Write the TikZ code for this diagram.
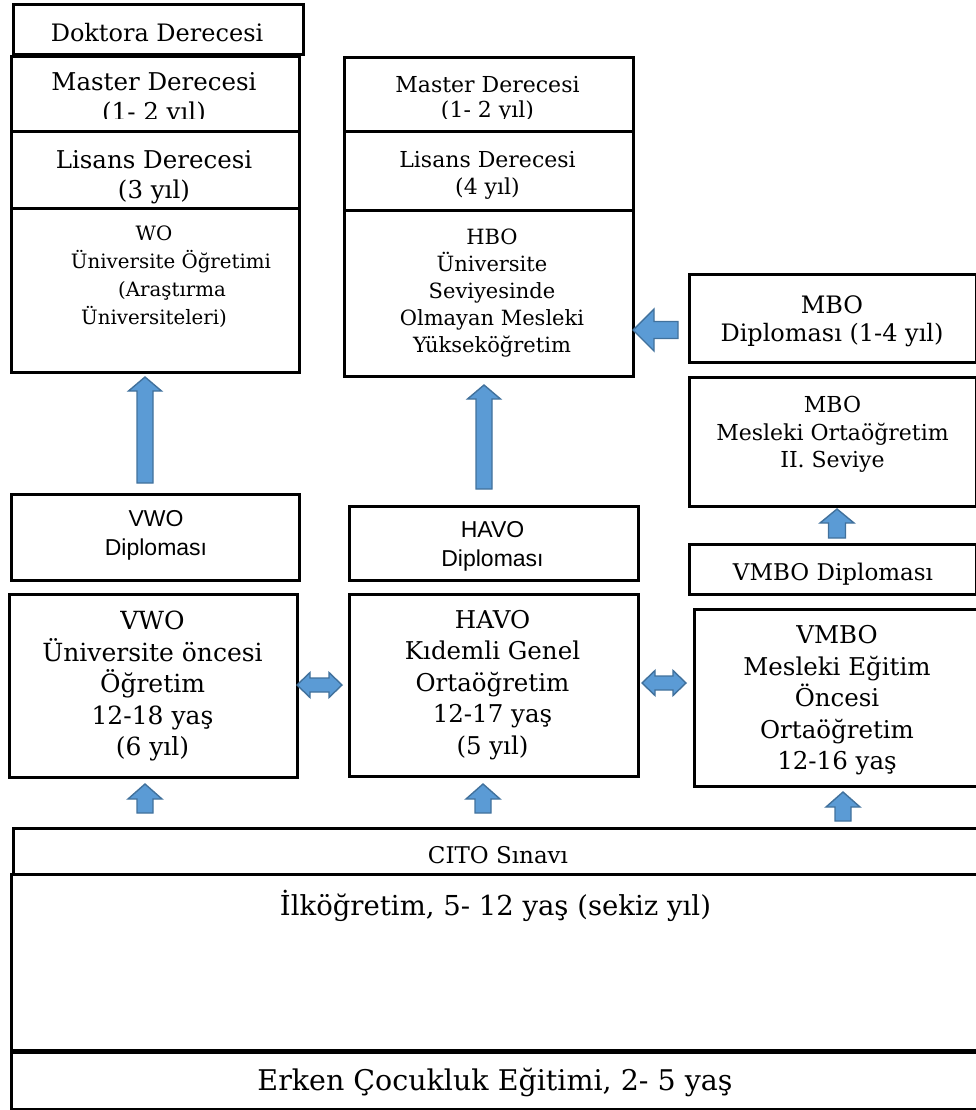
\documentclass[tikz,border=0pt]{standalone}
\usepackage{fontspec}
\setmainfont{DejaVu Serif}
\newfontfamily\arialf{Liberation Sans}
\definecolor{arrfill}{RGB}{91,155,213}
\definecolor{arrline}{RGB}{65,113,156}
\tikzset{
  box/.style={draw=black, line width=2.6pt, fill=white, inner sep=0pt, anchor=north west},
  txt/.style={inner sep=0pt, align=center},
  blk/.style={fill=arrfill, draw=arrline, line width=1.4pt, line join=miter},
}
\newcommand{\fs}[2]{\fontsize{#1}{#2}\selectfont}
% x, ytail, ytip, halfshaft, halfhead, headlen
\newcommand{\blkup}[6]{\draw[blk] ({#1-#4},#2) -- ({#1-#4},{#3+#6}) -- ({#1-#5},{#3+#6}) -- (#1,#3) -- ({#1+#5},{#3+#6}) -- ({#1+#4},{#3+#6}) -- ({#1+#4},#2) -- cycle;}
% y, xtail, xtip, halfshaft, halfhead, headlen
\newcommand{\blkleft}[6]{\draw[blk] (#2,{#1-#4}) -- ({#3+#6},{#1-#4}) -- ({#3+#6},{#1-#5}) -- (#3,#1) -- ({#3+#6},{#1+#5}) -- ({#3+#6},{#1+#4}) -- (#2,{#1+#4}) -- cycle;}
% y, xleft, xright, halfshaft, halfhead, headlen
\newcommand{\blkboth}[6]{\draw[blk] (#2,#1) -- ({#2+#6},{#1-#5}) -- ({#2+#6},{#1-#4}) -- ({#3-#6},{#1-#4}) -- ({#3-#6},{#1-#5}) -- (#3,#1) -- ({#3-#6},{#1+#5}) -- ({#3-#6},{#1+#4}) -- ({#2+#6},{#1+#4}) -- ({#2+#6},{#1+#5}) -- cycle;}

\begin{document}
\begin{tikzpicture}[x=1pt,y=-1pt]
\useasboundingbox (0,0) rectangle (976,1110);
\clip (0,0) rectangle (976,1110);

% ---------- boxes ----------
\node[box, line width=3.2pt, minimum width=290pt, minimum height=50pt] (doktora) at (12,3) {};
\node[box, minimum width=288pt, minimum height=75pt] (masterL) at (10,55) {};
\node[box, minimum width=288pt, minimum height=77pt] (lisansL) at (10,130) {};
\node[box, minimum width=288pt, minimum height=164pt] (wo) at (10,207) {};

\node[box, minimum width=289pt, minimum height=74pt] (masterM) at (343,56) {};
\node[box, minimum width=289pt, minimum height=79pt] (lisansM) at (343,130) {};
\node[box, minimum width=289pt, minimum height=166pt] (hbo) at (343,209) {};

\node[box, minimum width=287pt, minimum height=88pt] (mbodip) at (688,273) {};
\node[box, minimum width=287pt, minimum height=129pt] (mbo) at (688,376) {};
\node[box, minimum width=287pt, minimum height=50pt] (vmbodip) at (688,543) {};

\node[box, minimum width=288pt, minimum height=86pt] (vwodip) at (10,493) {};
\node[box, minimum width=289pt, minimum height=74pt] (havodip) at (348,505) {};

\node[box, minimum width=288pt, minimum height=183pt] (vwo) at (8,593) {};
\node[box, minimum width=289pt, minimum height=182pt] (havo) at (348,593) {};
\node[box, minimum width=300pt, minimum height=177pt] (vmbo) at (693,608) {};

\node[box, minimum width=990pt, minimum height=46pt] (cito) at (12,827) {};
\node[box, minimum width=992pt, minimum height=176pt] (ilk) at (10,873) {};
\node[box, minimum width=992pt, minimum height=57pt] (erken) at (10,1051) {};

% ---------- texts ----------
\node[txt, font=\fs{24}{30}] (tdoktora) at (157,33) {Doktora Derecesi};
\begin{scope}
  \clip (10,55) rectangle (298,119);
  \node[txt, font=\fs{24.5}{30}] (tmasterL) at (154,99) {Master Derecesi\\(1- 2 yıl)};
\end{scope}
\node[txt, font=\fs{24.5}{30}] (tlisansL) at (154,177.5) {Lisans Derecesi\\(3 yıl)};
\node[txt, font=\fs{19.8}{27.8}] (two) at (154,276.5) {WO\\\hspace*{34pt}Üniversite Öğretimi\\\hspace*{36pt}(Araştırma\\Üniversiteleri)};

\begin{scope}
  \clip (343,56) rectangle (632,119);
  \node[txt, font=\fs{22}{25}] (tmasterM) at (487.5,99.5) {Master Derecesi\\(1- 2 yıl)};
\end{scope}
\node[txt, font=\fs{22}{27}] (tlisansM) at (487.5,175.5) {Lisans Derecesi\\(4 yıl)};
\node[txt, font=\fs{21}{27}] (thbo) at (492,293) {HBO\\Üniversite\\Seviyesinde\\Olmayan Mesleki\\Yükseköğretim};

\node[txt, font=\fs{24}{28}] (tmbodip) at (832,321.5) {MBO\\Diploması (1-4 yıl)};
\node[txt, font=\fs{22}{27.5}] (tmbo) at (832.5,434.5) {MBO\\Mesleki Ortaöğretim\\II. Seviye};
\node[txt, font=\fs{23}{28}] (tvmbodip) at (833,574) {VMBO Diploması};

\node[txt, font=\arialf\fs{23}{29}] (tvwodip) at (156,535) {VWO\\Diploması};
\node[txt, font=\arialf\fs{23}{29}] (thavodip) at (492.5,546.5) {HAVO\\Diploması};

\node[txt, font=\fs{25}{31.5}] (tvwo) at (152.5,686) {VWO\\Üniversite öncesi\\Öğretim\\12-18 yaş\\(6 yıl)};
\node[txt, font=\fs{24.5}{31.5}] (thavo) at (492.5,685) {HAVO\\Kıdemli Genel\\Ortaöğretim\\12-17 yaş\\(5 yıl)};
\node[txt, font=\fs{24.5}{31.5}] (tvmbo) at (837,700.5) {VMBO\\Mesleki Eğitim\\Öncesi\\Ortaöğretim\\12-16 yaş};

\node[txt, font=\fs{23}{28}] (tcito) at (498,855) {CITO Sınavı};
\node[txt, font=\fs{27.5}{32}] (tilk) at (495.5,905.5) {İlköğretim, 5- 12 yaş (sekiz yıl)};
\node[txt, font=\fs{28.5}{32}] (terken) at (495,1082.5) {Erken Çocukluk Eğitimi, 2- 5 yaş};

% ---------- block arrows ----------
\blkup{145}{483}{377}{8}{16.5}{14}
\blkup{484}{489}{385}{8}{16.5}{14}
\blkleft{330}{678}{633}{8.5}{21}{21}
\blkboth{685}{297}{342}{7}{12.5}{13}
\blkboth{683}{642}{686}{7}{12.5}{13}
\blkup{837}{538}{509}{8.5}{17}{14}
\blkup{145}{813}{784}{8}{17}{15}
\blkup{483}{813}{784}{8}{17}{15}
\blkup{843}{821}{792}{8}{17}{15}
\end{tikzpicture}
\end{document}
